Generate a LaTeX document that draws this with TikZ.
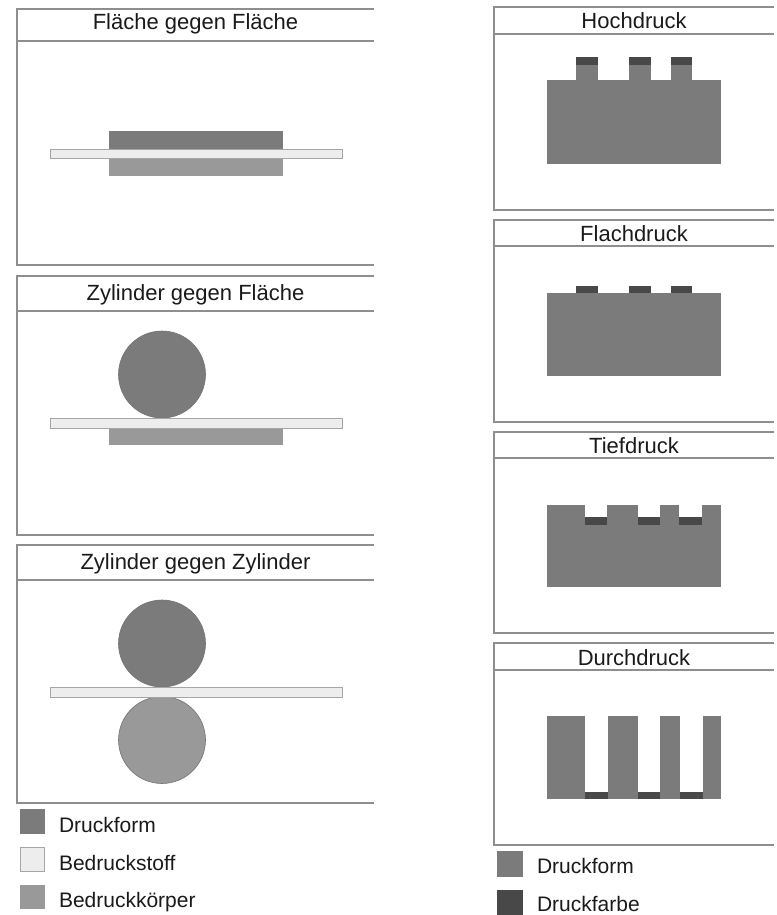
\documentclass[tikz,border=0pt]{standalone}
\usepackage{fontspec}
\setmainfont{Liberation Sans}
% ---- Farben (aus dem Bild geschaetzt) ----
\definecolor{formgrau}{HTML}{7B7B7B}   % Druckform
\definecolor{koerpergrau}{HTML}{999999}% Bedruckkoerper
\definecolor{stoffgrau}{HTML}{EDEDED}  % Bedruckstoff
\definecolor{farbgrau}{HTML}{484848}   % Druckfarbe
\definecolor{rahmengrau}{HTML}{8E8E8E}
\definecolor{textschwarz}{HTML}{1A1A1A}
% Feld: #1 Name, #2 x links, #3 x rechts, #4 y oben, #5 y Kopflinie, #6 y unten, #7 y Grundlinie Titel, #8 Titel
% (rechts offen, wie im Bild)
\newcommand{\dpanel}[8]{%
  \draw[frame] (#3,#4) -- (#2,#4) -- (#2,#6) -- (#3,#6);
  \draw[frame] (#2,#5) -- (#3,#5);
  \node[titel] (#1) at ({(#2+#3)/2},#7) {#8};
}

\begin{document}
\begin{tikzpicture}[x=1pt,y=-1pt,line join=miter,
  every node/.style={inner sep=0pt,outer sep=0pt},
  frame/.style={draw=rahmengrau,line width=1.4pt},
  titel/.style={anchor=base,text=textschwarz,font=\fontsize{22pt}{22pt}\selectfont},
  legtext/.style={anchor=base west,text=textschwarz,font=\fontsize{21pt}{21pt}\selectfont},
  stoff/.style={fill=stoffgrau,draw=black!35,line width=0.8pt},
  walze/.style={draw=black!55,line width=0.6pt}]
  \path[use as bounding box] (0,0) rectangle (776,915);  % Bild 776x915px, 1px = 1pt
  % ---- linke Spalte: Pressprinzipien ----
  \dpanel{t1}{17}{374}{9}{41}{265}{30}{Fläche gegen Fläche}
  \dpanel{t2}{17}{374}{276}{311}{535}{300}{Zylinder gegen Fläche}
  \dpanel{t3}{17}{374}{545}{580}{803}{569}{Zylinder gegen Zylinder}
  % Flaeche gegen Flaeche
  \fill[formgrau]    (109,131.5) rectangle (283,149);
  \fill[koerpergrau] (109,158.5) rectangle (283,175.5);
  \path[stoff]       (50,149) rectangle (342,158.5);
  % Zylinder gegen Flaeche
  \fill[walze,fill=formgrau] (162,374.5) circle[radius=43.5pt];
  \fill[koerpergrau] (109,428) rectangle (283,445);
  \path[stoff]       (50,418) rectangle (342,428);
  % Zylinder gegen Zylinder
  \path[walze,fill=formgrau]    (162,643.5) circle[radius=43.5pt];
  \path[walze,fill=koerpergrau] (162,740) circle[radius=43.5pt];
  \path[stoff]       (50,687) rectangle (342,697);
  % ---- rechte Spalte: Druckverfahren ----
  \dpanel{t4}{494}{774}{7}{34}{210}{29}{Hochdruck}
  \dpanel{t5}{494}{774}{220}{246}{422}{241}{Flachdruck}
  \dpanel{t6}{494}{774}{432}{458}{633}{453}{Tiefdruck}
  \dpanel{t7}{494}{774}{643}{670}{845}{665}{Durchdruck}
  % Hochdruck: erhabene Stege mit Farbe oben
  \fill[formgrau] (547,80) rectangle (721,164);
  \foreach \a/\b in {576/598,629/651,671/692} {
    \fill[formgrau] (\a,65) rectangle (\b,80.5);
    \fill[farbgrau] (\a,57) rectangle (\b,65);
  }
  % Flachdruck: Farbe auf ebener Form
  \fill[formgrau] (547,293) rectangle (721,376);
  \foreach \a/\b in {576/598,629/651,671/692}
    \fill[farbgrau] (\a,286) rectangle (\b,293);
  % Tiefdruck: Naepfchen mit Farbe
  \fill[formgrau] (547,505) rectangle (721,587);
  \foreach \a/\b in {585/607,638/660,679/702} {
    \fill[white] (\a,504) rectangle (\b,517);
    \fill[farbgrau] (\a,517) rectangle (\b,525);
  }
  % Durchdruck: Schablone, Farbe in den Oeffnungen
  \foreach \a/\b in {547/585,608/638,660/680,703/721}
    \fill[formgrau] (\a,716) rectangle (\b,799);
  \foreach \a/\b in {585/608,638/660,680/703}
    \fill[farbgrau] (\a,792) rectangle (\b,799);
  % ---- Legenden ----
  \fill[formgrau]    (20,809) rectangle (45,834);
  \path[stoff]       (20.5,847) rectangle (44.5,871);
  \fill[koerpergrau] (20,885) rectangle (45,909);
  \node[legtext] (l1) at (59,832) {Druckform};
  \node[legtext] (l2) at (59,870) {Bedruckstoff};
  \node[legtext] (l3) at (59,907) {Bedruckkörper};
  \fill[formgrau]    (497,851) rectangle (523,877);
  \fill[farbgrau]    (497,890) rectangle (523,915);
  \node[legtext] (l4) at (537,873) {Druckform};
  \node[legtext] (l5) at (537,911) {Druckfarbe};
\end{tikzpicture}
\end{document}
